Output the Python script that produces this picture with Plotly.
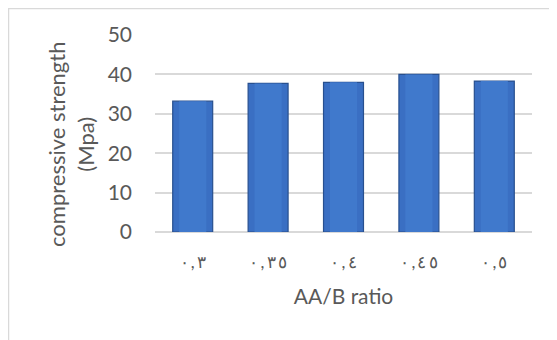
import plotly.graph_objects as go

categories = ["\u0660,\u0663", "\u0660,\u0663\u0665", "\u0660,\u0664", "\u0660,\u0664\u0665", "\u0660,\u0665"]
strength = [33.2, 37.7, 38.0, 40.0, 38.3]
y_ticks = [0, 10, 20, 30, 40, 50]
y_title = "compressive strength<br>(Mpa)"
x_title = "AA/B ratio"

# force left-to-right display with a little letter spacing
cat_labels = ["\u202d" + "\u2009".join(c) + "\u202c" for c in categories]

fig = go.Figure()
fig.add_trace(go.Bar(
    x=cat_labels, y=strength,
    marker=dict(color="#3a6fc3", line=dict(color="#28508f", width=1.2)),
    width=0.53,
))
fig.add_trace(go.Bar(
    x=cat_labels, y=strength,
    marker=dict(color="#4079cc", line=dict(width=0)),
    width=0.36,
    hoverinfo="skip",
))

W, H = 557, 340
L, R, T, B = 147, 33, 27, 116
pw, ph = W - L - R, H - T - B

font_family = "Lato, Carlito, 'Open Sans', sans-serif"
fig.update_layout(
    width=W, height=H,
    margin=dict(l=L, r=R, t=T, b=B),
    paper_bgcolor="white", plot_bgcolor="white",
    showlegend=False,
    barmode="overlay",
    font=dict(family=font_family, color="#595959", size=21),
    shapes=[dict(type="rect", xref="paper", yref="paper",
                 x0=(-L + 0.5) / pw, x1=(W - L + 20) / pw, y0=-(B + 20) / ph, y1=(ph + T - 0.5) / ph,
                 line=dict(color="#d9d9d9", width=1.5), fillcolor="rgba(0,0,0,0)", layer="below")],
    annotations=[dict(text=y_title, textangle=-90, xref="paper", yref="paper",
                      x=-84 / pw, y=87 / ph, xanchor="center", yanchor="middle",
                      showarrow=False, align="center",
                      font=dict(size=22, color="#595959"))],
)
fig.update_xaxes(
    automargin=False,
    showgrid=False, showline=False, zeroline=False,
    tickfont=dict(size=17, color="#595959"),
    ticks="", ticklabelstandoff=18,
    title=dict(text=x_title, font=dict(size=21, color="#595959"), standoff=18),
)
fig.update_yaxes(
    automargin=False,
    range=[0, 50], tickvals=y_ticks,
    showgrid=True, gridcolor="#d9d9d9", gridwidth=1.5,
    zeroline=True, zerolinecolor="#d9d9d9", zerolinewidth=1.5,
    tickfont=dict(size=21, color="#595959"),
    ticks="", ticklabelstandoff=22,
)
fig.write_html("out.html")
